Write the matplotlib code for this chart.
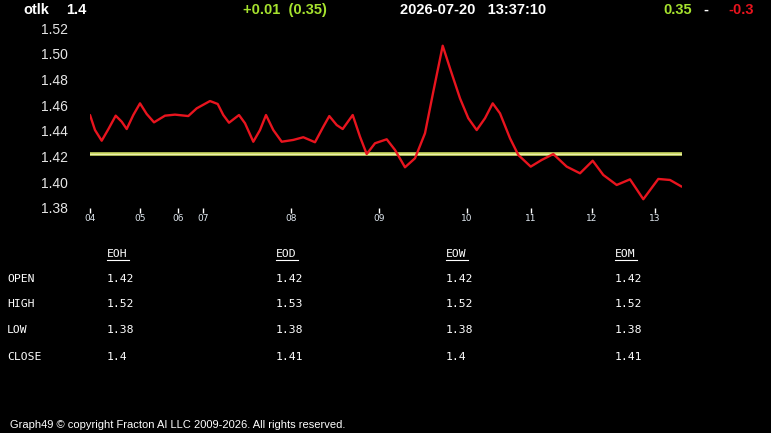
import numpy as np
import matplotlib; matplotlib.use("Agg")
import matplotlib.pyplot as plt
from matplotlib.lines import Line2D

W, H = 771, 433
BG = "black"; GREEN = "#a6e22e"; RED = "#e8141e"; YEL = "#cfdc66"

# price curve (x = position along time axis)
x_pos = [0, 5, 11.7, 18.3, 25.7, 31.7, 36.7, 43.3, 50, 56.7, 64, 75, 85, 98.3, 106.7, 120,
         127.7, 133.3, 139, 149, 155, 163.3, 170, 176, 183.3, 191.7, 203.3, 213.3, 225, 233.3,
         239.3, 246.7, 252.7, 262.7, 270, 276.7, 285, 296.7, 305, 315, 325, 335, 343.3, 352.7,
         360, 370, 378.3, 386.7, 395, 402.7, 410, 420, 428.3, 440.7, 451.7, 463.3, 476.7, 490,
         502.7, 513.3, 526.7, 540, 553.3, 568.3, 580, 591.7]
price = [1.4522, 1.4405, 1.4322, 1.4411, 1.4517, 1.4470, 1.4413, 1.4522, 1.4613, 1.4530, 1.4465,
         1.4517, 1.4525, 1.4514, 1.4574, 1.4631, 1.4608, 1.4522, 1.4462, 1.4522, 1.4458, 1.4314,
         1.4405, 1.4522, 1.4405, 1.4314, 1.4328, 1.4349, 1.4310, 1.4431, 1.4514, 1.4444, 1.4413,
         1.4522, 1.4353, 1.4218, 1.4302, 1.4333, 1.4250, 1.4115, 1.4185, 1.4380, 1.4704, 1.5062,
         1.4886, 1.4652, 1.4497, 1.4405, 1.4497, 1.4613, 1.4535, 1.4341, 1.4211, 1.4120, 1.4172,
         1.4218, 1.4120, 1.4068, 1.4166, 1.4055, 1.3977, 1.4021, 1.3866, 1.4024, 1.4016, 1.3964]
avg_level = 1.4215
x_ticks = [0, 50, 88, 113, 201, 289, 377, 441, 502, 565]
x_labels = ["04", "05", "06", "07", "08", "09", "10", "11", "12", "13"]
y_ticks = [1.38, 1.40, 1.42, 1.44, 1.46, 1.48, 1.50, 1.52]

row_names = ["OPEN", "HIGH", "LOW", "CLOSE"]
col_names = ["EOH", "EOD", "EOW", "EOM"]
table_vals = [["1.42", "1.42", "1.42", "1.42"],
              ["1.52", "1.53", "1.52", "1.52"],
              ["1.38", "1.38", "1.38", "1.38"],
              ["1.4", "1.41", "1.4", "1.41"]]

fig = plt.figure(figsize=(W/100, H/100), dpi=100, facecolor=BG)
def P(x, y): return (x/W, 1 - y/H)

ax = fig.add_axes([90/W, 1-207.7/H, 592/W, 179.7/H], facecolor=BG)
ax.plot([x_pos[0], x_pos[-1]], [avg_level, avg_level], color=YEL, lw=2.6, solid_capstyle="butt")
ax.plot([x_pos[0], x_pos[-1]], [avg_level, avg_level], color="#eef2b0", lw=0.7)
ax.plot(x_pos, price, color=RED, lw=1.7, solid_joinstyle="round", solid_capstyle="round")
ax.set_xlim(0, 592); ax.set_ylim(1.38, 1.52)
for s in ax.spines.values(): s.set_visible(False)
ax.set_yticks(y_ticks); ax.set_yticklabels([f"{v:.2f}" for v in y_ticks])
ax.tick_params(axis="y", length=0, pad=16, labelsize=10, labelcolor="#e6e6e6")
ax.set_xticks(x_ticks); ax.set_xticklabels(x_labels)
ax.tick_params(axis="x", length=3.5, width=1, color="white", pad=1, labelsize=6.5, labelcolor="#e0e8f0")
for t in ax.get_yticklabels(): t.set_family("Liberation Sans")
for t in ax.get_xticklabels(): t.set_family("DejaVu Sans")

hdr = dict(family="Liberation Sans", weight="bold", fontsize=10.5, va="center")
fig.text(*P(23, 10), "otlk", color="white", **hdr)
fig.text(*P(66, 10), "1.4", color="white", **hdr)
fig.text(*P(243, 10), "+0.01  (0.35)", color=GREEN, **hdr)
fig.text(*P(400, 10), "2026-07-20   13:37:10", color="white", **hdr)
fig.text(*P(663, 10), "0.35", color=GREEN, **hdr)
fig.text(*P(703, 10), "-", color="white", **hdr)
fig.text(*P(728, 10), "-0.3", color=RED, **hdr)

mono = dict(family="DejaVu Sans Mono", fontsize=8.2, color="white", va="center")
col_x = [107, 276, 446, 615]
row_y = [279, 304, 330, 356.5]
for cx, name in zip(col_x, col_names):
    fig.text(*P(cx, 254), name, **mono)
    fig.lines.append(Line2D([cx/W, (cx+22)/W], [1-259.5/H]*2, color="white", lw=0.8,
                            transform=fig.transFigure))
for ry, name, vals in zip(row_y, row_names, table_vals):
    fig.text(*P(7, ry), name, **mono)
    for cx, v in zip(col_x, vals):
        fig.text(*P(cx, ry), v, **mono)

fig.text(*P(10, 425), "Graph49 \u00a9 copyright Fracton AI LLC 2009-2026. All rights reserved.",
         family="Liberation Sans", fontsize=8, color="white", va="center")

plt.savefig("out.png", dpi=100, facecolor=BG)
